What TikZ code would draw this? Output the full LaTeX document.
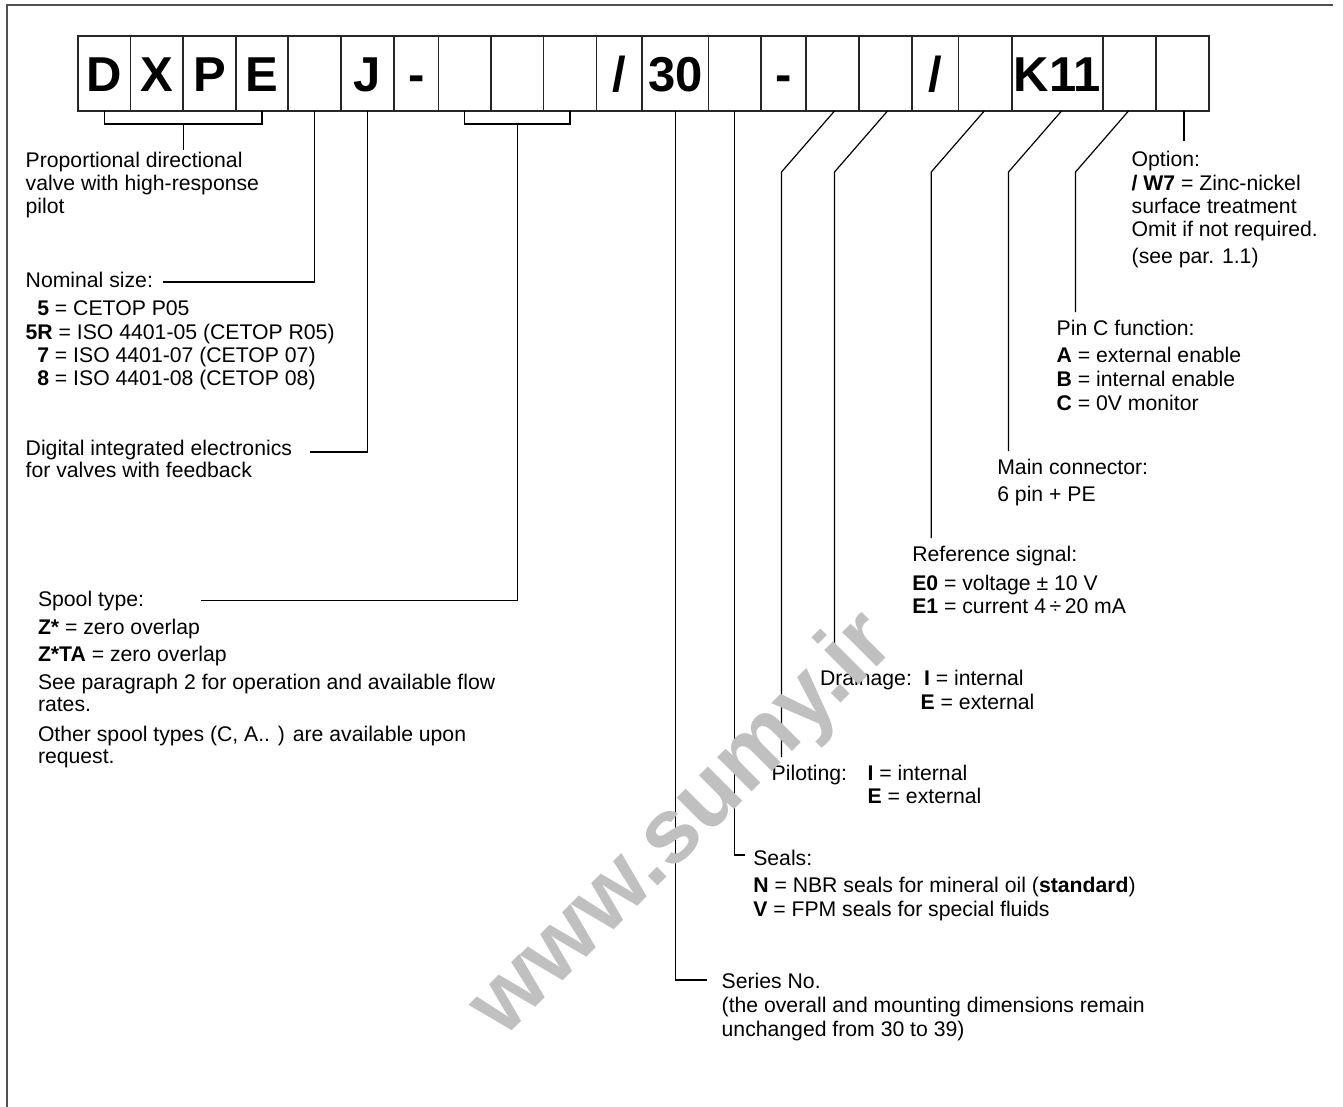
\documentclass[tikz,border=0pt]{standalone}
\usepackage{fontspec}
\setmainfont{Liberation Sans}
\usetikzlibrary{calc}
\definecolor{wmgray}{RGB}{192,192,192}
\definecolor{framegray}{RGB}{80,80,80}
\newcommand\slsh{/}
\begin{document}
\begin{tikzpicture}[x=1pt,y=-1pt,
  cell/.style={draw=black!85, line width=1.4pt, minimum height=75pt, inner sep=0pt, outer sep=0pt,
    text height=35.1pt, text depth=0pt, font=\fontsize{49}{49}\selectfont\bfseries},
  conn/.style={draw=black, line width=1.2pt},
  txt/.style={anchor=base west, inner sep=0pt, outer sep=0pt, align=left,
    font=\fontsize{21.2}{23.3}\selectfont},
  frameline/.style={draw=framegray, line width=2pt},
  wmark/.style={anchor=center, inner sep=0pt, rotate=45, text=wmgray,
    font=\fontsize{92}{92}\selectfont\bfseries}]
\useasboundingbox (0,0) rectangle (1343,1107);
\draw[frameline] (7,1107) -- (7,5.5) -- (1333,5.5);

% code boxes
\foreach \n/\l/\r/\t in {1/78/130.5/D, 2/130.5/183/X, 3/183/236/P, 4/236/288/E,
  5/288/341/{}, 6/341/394/J, 7/394/438.5/-, 8/438.5/491/{}, 9/491/543.5/{},
  10/543.5/596.5/{}, 11/596.5/642/\slsh, 12/642/708.5/30, 13/708.5/761/{},
  14/761/806/-, 15/806/859/{}, 16/859/912/{}, 17/912/958.5/\slsh,
  18/958.5/1012/{}, 19/1012/1103/K11, 20/1103/1156/{}, 21/1156/1209/{}}
  \node[cell, minimum width=\r-\l] (b\n) at ({(\l+\r)/2},73.5) {\t};

% connectors
\draw[conn] (b1.south) -- ++(0,13) -| (b4.south);
\coordinate (brDXPE) at ($(b1.south)!0.5!(b4.south)+(0,13)$);
\coordinate (endDXPE) at ($(brDXPE)+(0,26)$);
\draw[conn] (brDXPE) -- (endDXPE);

\coordinate (endNom) at (163,282);
\draw[conn] (b5.south) |- (endNom);

\coordinate (endJ) at (310,452);
\draw[conn] (b6.south) |- (endJ);

\draw[conn] (b8.south) -- ++(0,13) -| (b10.south);
\coordinate (brSpool) at ($(b8.south)!0.5!(b10.south)+(0,13)$);
\coordinate (endSpool) at (201,600.5);
\draw[conn] (brSpool) |- (endSpool);

\coordinate (endSer) at (706.5,980);
\draw[conn] (b12.south) |- (endSer);

\coordinate (endSeal) at (745,855);
\draw[conn] (b13.south) |- (endSeal);

\coordinate (endPil) at (781.5,757);
\draw[conn] ([xshift=2pt]b15.south) -- ++(-53,61) -- (endPil);

\coordinate (endDra) at (834.5,650);
\draw[conn] ([xshift=2pt]b16.south) -- ++(-53,61) -- (endDra);

\coordinate (endRef) at (931.25,538);
\draw[conn] ([xshift=-1pt]b18.south) -- ++(-53,61) -- (endRef);

\coordinate (endMain) at (1008.5,451);
\draw[conn] ([xshift=4pt]b19.south) -- ++(-53,61) -- (endMain);

\coordinate (endPin) at (1075.5,312);
\draw[conn] ([xshift=-1pt]b20.south) -- ++(-53,61) -- (endPin);

\coordinate (endOpt) at (1184,141);
\draw[conn] ([xshift=1.5pt]b21.south) -- (endOpt);

% texts (base anchor = baseline of the last line)
\node[txt] (tValve) at (25.7,213.9) {Proportional directional\\valve with high-response\\pilot};
\node[txt] (tNom) at (25.7,385.7) {Nominal size:\\[4.7pt]\hspace*{11.6pt}\textbf{5} = CETOP P05\\\textbf{5R} = ISO 4401-05 (CETOP R05)\\\hspace*{11.6pt}\textbf{7} = ISO 4401-07 (CETOP 07)\\\hspace*{11.6pt}\textbf{8} = ISO 4401-08 (CETOP 08)};
\node[txt] (tDig) at (25.7,477.3) {Digital integrated electronics\\[-1pt]for valves with feedback};
\node[txt] (tSpool) at (38,763.5) {Spool type:\\[4.7pt]\textbf{Z*} = zero overlap\\[4.2pt]\textbf{Z*TA} = zero overlap\\[4.2pt]See paragraph 2 for operation and available flow\\[-0.8pt]rates.\\[6.2pt]Other spool types (C, A.. ) are available upon\\[-0.8pt]request.};
\node[txt] (tOpt) at (1131.7,264) {Option:\\\textbf{/ W7} = Zinc-nickel\\surface treatment\\Omit if not required.\\[4pt](see par. 1.1)};
\node[txt] (tPin) at (1056.7,410) {Pin C function:\\[4.4pt]\textbf{A} = external enable\\[0.7pt]\textbf{B} = internal enable\\\textbf{C} = 0V monitor};
\node[txt] (tMain) at (997.3,501.7) {Main connector:\\[4.1pt]6 pin + PE};
\node[txt] (tRef) at (912.3,613.3) {Reference signal:\\[5pt]\textbf{E0} = voltage ± 10 V\\\textbf{E1} = current 4\,÷\,20 mA};
\node[txt] (tDraL) at (820,685) {Drainage:};
\node[txt] (tDraV) at (920.7,709) {\hspace*{3.3pt}\textbf{I} = internal\\[0.7pt]\textbf{E} = external};
\node[txt] (tPilL) at (771.7,780) {Piloting:};
\node[txt] (tPilV) at (867.7,803.3) {\textbf{I} = internal\\\textbf{E} = external};
\node[txt] (tSeal) at (753.3,916.6) {Seals:\\[3.3pt]\textbf{N} = NBR seals for mineral oil (\textbf{standard})\\[1pt]\textbf{V} = FPM seals for special fluids};
\node[txt] (tSer) at (721.7,1036) {Series No.\\[0.3pt](the overall and mounting dimensions remain\\[0.4pt]unchanged from 30 to 39)};

% watermark
\node[wmark] (wm) at (684,826) {www.sumy.ir};
\end{tikzpicture}
\end{document}
